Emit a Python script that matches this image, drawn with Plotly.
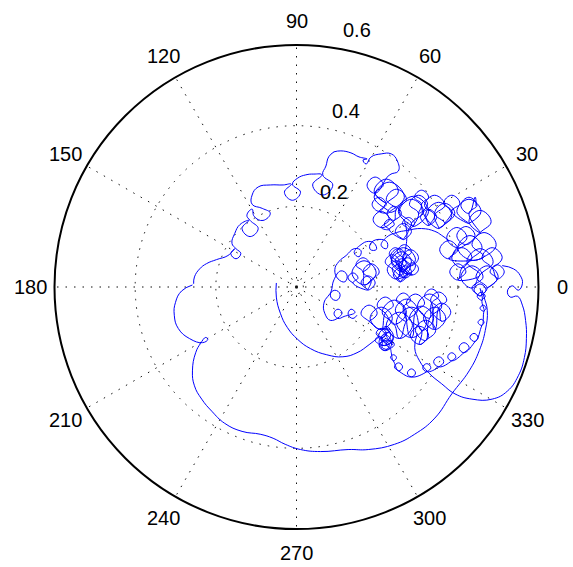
import numpy as np
import plotly.graph_objects as go

# ---------------- data (x, y components of the trajectory, radial units) -------------
spiral = [(-0.050, 0.010), (-0.050, -0.025), (-0.040, -0.065), (-0.023, -0.100), (0.003, -0.130),
          (0.035, -0.153), (0.075, -0.168), (0.115, -0.173), (0.150, -0.163), (0.180, -0.143),
          (0.205, -0.123)]

tangle_chain = [(0.215, -0.103), (0.233, -0.113), (0.225, -0.133), (0.205, -0.128), (0.210, -0.108),
                (0.230, -0.105), (0.240, -0.125), (0.223, -0.145), (0.205, -0.138), (0.218, -0.118),
                (0.235, -0.133), (0.230, -0.153), (0.213, -0.150), (0.220, -0.128), (0.238, -0.143),
                (0.2225, -0.1175), (0.2325, -0.1075), (0.2225, -0.0975), (0.2125, -0.1075), (0.2225, -0.1175),
                (0.21, -0.1275), (0.2225, -0.115), (0.21, -0.1025), (0.1975, -0.115), (0.21, -0.1275),
                (0.225, -0.1425), (0.24, -0.1275), (0.225, -0.1125), (0.21, -0.1275), (0.225, -0.1425),
                (0.205, -0.1425), (0.215, -0.1325), (0.205, -0.1225), (0.195, -0.1325), (0.205, -0.1425),
                (0.2175, -0.1575), (0.23, -0.145), (0.2175, -0.1325), (0.205, -0.145), (0.2175, -0.1575),
                (0.2325, -0.1525), (0.2425, -0.1425), (0.2325, -0.1325), (0.2225, -0.1425), (0.2325, -0.1525),
                (0.235, -0.163),
                (0.240, -0.183), (0.248, -0.175), (0.240, -0.168), (0.233, -0.175), (0.240, -0.183),
                (0.253, -0.208), (0.263, -0.198), (0.253, -0.188), (0.243, -0.198), (0.253, -0.208),
                (0.285, -0.223), (0.295, -0.213), (0.285, -0.203), (0.275, -0.213), (0.285, -0.223),
                (0.323, -0.210), (0.333, -0.200), (0.323, -0.190), (0.313, -0.200), (0.323, -0.210),
                (0.353, -0.198), (0.365, -0.185), (0.353, -0.173), (0.340, -0.185), (0.353, -0.198),
                (0.385, -0.183), (0.395, -0.173), (0.385, -0.163), (0.375, -0.173), (0.385, -0.183),
                (0.415, -0.163), (0.428, -0.150), (0.415, -0.138), (0.403, -0.150), (0.415, -0.163),
                (0.443, -0.135), (0.450, -0.125), (0.440, -0.115), (0.430, -0.125), (0.443, -0.135),
                (0.460, -0.095), (0.465, -0.088), (0.458, -0.080), (0.450, -0.088), (0.460, -0.095),
                (0.465, -0.060), (0.470, -0.053), (0.463, -0.045), (0.455, -0.053), (0.465, -0.060),
                (0.460, -0.033), (0.468, -0.023), (0.458, -0.013), (0.448, -0.023), (0.460, -0.033),
                (0.455, -0.003)]

cluster_low = [(0.18, -0.085), (0.2, -0.065), (0.18, -0.045), (0.16, -0.065), (0.18, -0.085),
               (0.21, -0.105), (0.2375, -0.0775), (0.21, -0.05), (0.1825, -0.0775), (0.21, -0.105),
               (0.22, -0.065), (0.24, -0.045), (0.22, -0.025), (0.2, -0.045), (0.22, -0.065),
               (0.2425, -0.0925), (0.2725, -0.0625), (0.2425, -0.0325), (0.2125, -0.0625), (0.2425, -0.0925),
               (0.255, -0.1275), (0.2875, -0.095), (0.255, -0.0625), (0.2225, -0.095), (0.255, -0.1275),
               (0.2725, -0.085), (0.3, -0.0575), (0.2725, -0.03), (0.245, -0.0575), (0.2725, -0.085),
               (0.265, -0.05), (0.2825, -0.0325), (0.265, -0.015), (0.2475, -0.0325), (0.265, -0.05),
               (0.285, -0.125), (0.3225, -0.0875), (0.285, -0.05), (0.2475, -0.0875), (0.285, -0.125),
               (0.295, -0.0625), (0.3175, -0.04), (0.295, -0.0175), (0.2725, -0.04), (0.295, -0.0625),
               (0.31, -0.1075), (0.34, -0.0775), (0.31, -0.0475), (0.28, -0.0775), (0.31, -0.1075),
               (0.305, -0.1425), (0.3275, -0.12), (0.305, -0.0975), (0.2825, -0.12), (0.305, -0.1425),
               (0.32, -0.1325), (0.345, -0.1075), (0.32, -0.0825), (0.295, -0.1075), (0.32, -0.1325),
               (0.33, -0.0775), (0.36, -0.0475), (0.33, -0.0175), (0.3, -0.0475), (0.33, -0.0775),
               (0.335, -0.04), (0.3525, -0.0225), (0.335, -0.005), (0.3175, -0.0225), (0.335, -0.04),
               (0.3425, -0.105), (0.37, -0.0775), (0.3425, -0.05), (0.315, -0.0775), (0.3425, -0.105),
               (0.3525, -0.0525), (0.3725, -0.0325), (0.3525, -0.0125), (0.3325, -0.0325), (0.3525, -0.0525),
               (0.36, -0.085), (0.3825, -0.0625), (0.36, -0.04), (0.3375, -0.0625), (0.36, -0.085)]

right_lobe = [(0.30, -0.115), (0.293, -0.15), (0.305, -0.183), (0.328, -0.213), (0.36, -0.24),
              (0.393, -0.265), (0.435, -0.278), (0.485, -0.278), (0.523, -0.258), (0.55, -0.22),
              (0.565, -0.175), (0.57, -0.128), (0.568, -0.083), (0.56, -0.045), (0.548, -0.023),
              (0.53, -0.025), (0.523, -0.01), (0.535, 0.003), (0.55, -0.008), (0.56, 0.008),
              (0.555, 0.028), (0.538, 0.045), (0.51, 0.053)]

right_cluster = [(0.485, 0.0475), (0.51, 0.0725), (0.485, 0.0975), (0.46, 0.0725), (0.485, 0.0475),
                 (0.4975, 0.02), (0.515, 0.0375), (0.4975, 0.055), (0.48, 0.0375), (0.4975, 0.02),
                 (0.4725, -0.0025), (0.5, 0.025), (0.4725, 0.0525), (0.445, 0.025), (0.4725, -0.0025),
                 (0.455, -0.0225), (0.47, -0.0075), (0.455, 0.0075), (0.44, -0.0075), (0.455, -0.0225),
                 (0.435, -0.0025), (0.4625, 0.025), (0.435, 0.0525), (0.4075, 0.025), (0.435, -0.0025),
                 (0.455, 0.03), (0.4875, 0.0625), (0.455, 0.095), (0.4225, 0.0625), (0.455, 0.03),
                 (0.4, 0.0175), (0.42, 0.0375), (0.4, 0.0575), (0.38, 0.0375), (0.4, 0.0175),
                 (0.41, 0.0475), (0.435, 0.0725), (0.41, 0.0975), (0.385, 0.0725), (0.41, 0.0475),
                 (0.43, 0.0675), (0.46, 0.0975), (0.43, 0.1275), (0.4, 0.0975), (0.43, 0.0675),
                 (0.465, 0.075), (0.495, 0.105), (0.465, 0.135), (0.435, 0.105), (0.465, 0.075),
                 (0.3775, 0.07), (0.4, 0.0925), (0.3775, 0.115), (0.355, 0.0925), (0.3775, 0.07),
                 (0.3975, 0.0975), (0.4225, 0.1225), (0.3975, 0.1475), (0.3725, 0.1225), (0.3975, 0.0975),
                 (0.42, 0.105), (0.4425, 0.1275), (0.42, 0.15), (0.3975, 0.1275), (0.42, 0.105),
                 (0.455, 0.135), (0.4825, 0.1625), (0.455, 0.19), (0.4275, 0.1625), (0.455, 0.135),
                 (0.4275, 0.1825), (0.4475, 0.2025), (0.4275, 0.2225), (0.4075, 0.2025), (0.4275, 0.1825),
                 (0.443, 0.223), (0.445, 0.200)]

upper_cluster = [(0.4275, 0.1575), (0.4575, 0.1875), (0.4275, 0.2175), (0.3975, 0.1875), (0.4275, 0.1575),
                 (0.385, 0.1875), (0.405, 0.2075), (0.385, 0.2275), (0.365, 0.2075), (0.385, 0.1875),
                 (0.3675, 0.1575), (0.3925, 0.1825), (0.3675, 0.2075), (0.3425, 0.1825), (0.3675, 0.1575),
                 (0.3525, 0.145), (0.385, 0.1775), (0.3525, 0.21), (0.32, 0.1775), (0.3525, 0.145),
                 (0.3425, 0.1775), (0.3675, 0.2025), (0.3425, 0.2275), (0.3175, 0.2025), (0.3425, 0.1775),
                 (0.3275, 0.1525), (0.3475, 0.1725), (0.3275, 0.1925), (0.3075, 0.1725), (0.3275, 0.1525),
                 (0.31, 0.205), (0.3275, 0.2225), (0.31, 0.24), (0.2925, 0.2225), (0.31, 0.205),
                 (0.3025, 0.1825), (0.325, 0.205), (0.3025, 0.2275), (0.28, 0.205), (0.3025, 0.1825),
                 (0.29, 0.15), (0.3275, 0.1875), (0.29, 0.225), (0.2525, 0.1875), (0.29, 0.15),
                 (0.285, 0.1575), (0.315, 0.1875), (0.285, 0.2175), (0.255, 0.1875), (0.285, 0.1575),
                 (0.2775, 0.1425), (0.2925, 0.1575), (0.2775, 0.1725), (0.2625, 0.1575), (0.2775, 0.1425),
                 (0.265, 0.1175), (0.285, 0.1375), (0.265, 0.1575), (0.245, 0.1375), (0.265, 0.1175),
                 (0.23, 0.1425), (0.2425, 0.155), (0.23, 0.1675), (0.2175, 0.155), (0.23, 0.1425),
                 (0.21, 0.1475), (0.23, 0.1675), (0.21, 0.1875), (0.19, 0.1675), (0.21, 0.1475),
                 (0.2425, 0.165), (0.26, 0.1825), (0.2425, 0.2), (0.225, 0.1825), (0.2425, 0.165),
                 (0.2475, 0.1925), (0.2725, 0.2175), (0.2475, 0.2425), (0.2225, 0.2175), (0.2475, 0.1925),
                 (0.23, 0.185), (0.2675, 0.2225), (0.23, 0.26), (0.1925, 0.2225), (0.23, 0.185),
                 (0.205, 0.1875), (0.2225, 0.205), (0.205, 0.2225), (0.1875, 0.205), (0.205, 0.1875),
                 (0.2225, 0.2075), (0.2525, 0.2375), (0.2225, 0.2675), (0.1925, 0.2375), (0.2225, 0.2075),
                 (0.195, 0.2325), (0.215, 0.2525), (0.195, 0.2725), (0.175, 0.2525), (0.195, 0.2325),
                 (0.23, 0.2775), (0.2525, 0.2875), (0.25, 0.3125), (0.235, 0.33), (0.21, 0.33),
                 (0.185, 0.3225), (0.1725, 0.305), (0.165, 0.315), (0.175, 0.3175), (0.155, 0.3225),
                 (0.135, 0.3325), (0.11, 0.3375), (0.0925, 0.335)]

upper_left_arc = [(0.093, 0.335), (0.08, 0.323), (0.073, 0.30), (0.065, 0.278), (0.09, 0.253),
                  (0.065, 0.228), (0.04, 0.253), (0.063, 0.278), (0.043, 0.28), (0.023, 0.278),
                  (0.003, 0.27), (-0.01, 0.255), (0.01, 0.235), (-0.01, 0.215), (-0.03, 0.235),
                  (-0.013, 0.255), (-0.033, 0.253), (-0.065, 0.253), (-0.095, 0.248), (-0.11, 0.228),
                  (-0.11, 0.205), (-0.085, 0.195), (-0.065, 0.183), (-0.083, 0.165), (-0.105, 0.175),
                  (-0.11, 0.193), (-0.123, 0.178), (-0.115, 0.165), (-0.095, 0.145), (-0.115, 0.125),
                  (-0.135, 0.145), (-0.118, 0.165), (-0.14, 0.155), (-0.153, 0.133), (-0.16, 0.108),
                  (-0.15, 0.095), (-0.138, 0.083), (-0.15, 0.07), (-0.163, 0.083), (-0.153, 0.095),
                  (-0.17, 0.078), (-0.198, 0.068), (-0.223, 0.058), (-0.24, 0.045), (-0.253, 0.025),
                  (-0.255, 0.008)]

left_lobe_bottom = [(-0.258, 0.005), (-0.285, -0.01), (-0.30, -0.038), (-0.303, -0.07), (-0.293, -0.103),
                    (-0.265, -0.128), (-0.233, -0.138), (-0.22, -0.13), (-0.225, -0.125), (-0.238, -0.14),
                    (-0.25, -0.163), (-0.258, -0.208), (-0.253, -0.245), (-0.235, -0.278), (-0.21, -0.308),
                    (-0.178, -0.338), (-0.135, -0.358), (-0.09, -0.365), (-0.058, -0.375), (-0.028, -0.39),
                    (0.01, -0.403), (0.06, -0.408), (0.128, -0.403), (0.178, -0.403), (0.243, -0.39),
                    (0.293, -0.365), (0.343, -0.325), (0.385, -0.265), (0.428, -0.208), (0.453, -0.158),
                    (0.468, -0.108), (0.473, -0.058), (0.465, -0.025), (0.46, -0.008)]

ring = [(0.15, -0.07), (0.14, -0.078), (0.128, -0.068), (0.135, -0.055), (0.145, -0.063),
        (0.118, -0.073), (0.103, -0.078), (0.093, -0.065), (0.103, -0.055), (0.113, -0.065),
        (0.085, -0.083), (0.07, -0.065), (0.068, -0.04), (0.078, -0.023), (0.095, -0.008),
        (0.108, -0.018), (0.10, -0.033), (0.085, -0.025), (0.088, -0.003), (0.093, 0.018),
        (0.11, 0.04), (0.125, 0.03), (0.12, 0.013), (0.103, 0.02), (0.095, 0.043),
        (0.105, 0.063), (0.123, 0.078), (0.143, 0.095), (0.16, 0.09), (0.155, 0.075),
        (0.143, 0.085), (0.16, 0.105), (0.178, 0.113), (0.193, 0.108), (0.198, 0.093),
        (0.183, 0.093), (0.185, 0.11), (0.21, 0.118), (0.225, 0.11), (0.223, 0.095),
        (0.21, 0.103), (0.223, 0.123), (0.248, 0.135), (0.273, 0.14), (0.31, 0.145),
        (0.343, 0.138), (0.36, 0.128), (0.378, 0.115)]

ring_circles = [(0.165, 0.0375), (0.1825, 0.055), (0.165, 0.0725), (0.1475, 0.055), (0.165, 0.0375),
                (0.1675, 0.005), (0.1975, 0.035), (0.1675, 0.065), (0.1375, 0.035), (0.1675, 0.005),
                (0.185, 0.0175), (0.205, 0.0375), (0.185, 0.0575), (0.165, 0.0375), (0.185, 0.0175),
                (0.1775, -0.0075), (0.195, 0.01), (0.1775, 0.0275), (0.16, 0.01), (0.1775, -0.0075),
                (0.14, 0.01), (0.1525, 0.0225), (0.14, 0.035), (0.1275, 0.0225), (0.14, 0.01)]

tangle_top = [(0.268, 0.163), (0.273, 0.14), (0.273, 0.113), (0.27, 0.093),
              (0.26, 0.0375), (0.285, 0.0625), (0.26, 0.0875), (0.235, 0.0625), (0.26, 0.0375),
              (0.2525, 0.055), (0.2725, 0.075), (0.2525, 0.095), (0.2325, 0.075), (0.2525, 0.055),
              (0.275, 0.0325), (0.295, 0.0525), (0.275, 0.0725), (0.255, 0.0525), (0.275, 0.0325),
              (0.2475, 0.02), (0.27, 0.0425), (0.2475, 0.065), (0.225, 0.0425), (0.2475, 0.02),
              (0.2675, 0.07), (0.285, 0.0875), (0.2675, 0.105), (0.25, 0.0875), (0.2675, 0.07),
              (0.2825, 0.0525), (0.3025, 0.0725), (0.2825, 0.0925), (0.2625, 0.0725), (0.2825, 0.0525),
              (0.2575, 0.0125), (0.275, 0.03), (0.2575, 0.0475), (0.24, 0.03), (0.2575, 0.0125),
              (0.2375, 0.045), (0.255, 0.0625), (0.2375, 0.08), (0.22, 0.0625), (0.2375, 0.045),
              (0.27, 0.0225), (0.285, 0.0375), (0.27, 0.0525), (0.255, 0.0375), (0.27, 0.0225),
              (0.26, 0.045), (0.2725, 0.0575), (0.26, 0.07), (0.2475, 0.0575), (0.26, 0.045),
              (0.245, 0.0675), (0.26, 0.0825), (0.245, 0.0975), (0.23, 0.0825), (0.245, 0.0675),
              (0.2875, 0.03), (0.3025, 0.045), (0.2875, 0.06), (0.2725, 0.045), (0.2875, 0.03),
              (0.265, 0.0375), (0.295, 0.0675), (0.265, 0.0975), (0.235, 0.0675), (0.265, 0.0375)]

angle_ticks = [0, 30, 60, 90, 120, 150, 180, 210, 240, 270, 300, 330]
radial_ticks = [0.2, 0.4, 0.6]
radial_labels = ["0.2", "0.4", "0.6"]

# ---------------- figure -------------
W, H = 573, 567
CX, CY, RPX = 296.5, 287.0, 242.0
RMAX = 0.6
FONT = "Liberation Sans, Arial, Helvetica, sans-serif"

segments = [spiral, tangle_chain, cluster_low, right_lobe, right_cluster, upper_cluster,
            upper_left_arc, left_lobe_bottom, ring, ring_circles, tangle_top]

fig = go.Figure()
for seg in segments:
    xy = np.array(seg, dtype=float)
    r = np.hypot(xy[:, 0], xy[:, 1])
    th = np.degrees(np.arctan2(xy[:, 1], xy[:, 0]))
    fig.add_trace(go.Scatterpolar(r=r, theta=th, mode="lines",
                                  line=dict(color="#0000ff", width=1, shape="spline", smoothing=1.3),
                                  showlegend=False, hoverinfo="skip"))

annotations = []
for a in angle_ticks:
    rr = 1.1 * RPX
    px = CX + rr * np.cos(np.radians(a))
    py = CY - rr * np.sin(np.radians(a))
    annotations.append(dict(x=px / W, y=1 - py / H, xref="paper", yref="paper", text=str(a),
                            showarrow=False, xanchor="center", yanchor="middle",
                            font=dict(family=FONT, size=20, color="black")))
radial_label_pos = [(334, 192), (346, 111), (357, 30)]
for lab, (px, py) in zip(radial_labels, radial_label_pos):
    annotations.append(dict(x=px / W, y=1 - py / H, xref="paper", yref="paper", text=lab,
                            showarrow=False, xanchor="center", yanchor="middle",
                            font=dict(family=FONT, size=20, color="black")))

fig.update_layout(
    width=W, height=H, margin=dict(l=0, r=0, t=0, b=0),
    paper_bgcolor="white", plot_bgcolor="white", showlegend=False,
    polar=dict(
        domain=dict(x=[(CX - RPX) / W, (CX + RPX) / W], y=[1 - (CY + RPX) / H, 1 - (CY - RPX) / H]),
        bgcolor="white",
        radialaxis=dict(range=[0, RMAX], tickvals=[0.017] + radial_ticks[:-1], showticklabels=False,
                        ticks="", showline=False, gridcolor="#111", griddash="1.5px,7px", gridwidth=1),
        angularaxis=dict(direction="counterclockwise", rotation=0, tickvals=angle_ticks,
                         showticklabels=False, ticks="", showline=True, linecolor="black", linewidth=2,
                         gridcolor="#111", griddash="1.5px,7px", gridwidth=1),
    ),
    annotations=annotations,
)

fig.write_html("out.html")
